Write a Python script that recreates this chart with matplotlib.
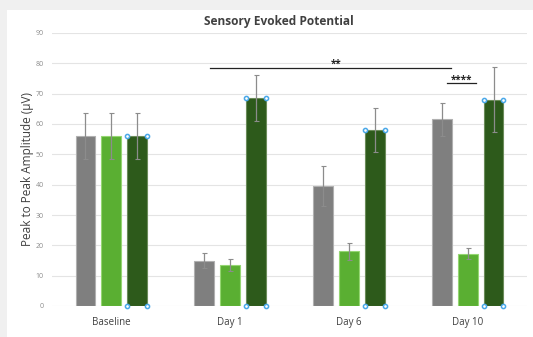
import numpy as np
import matplotlib.pyplot as plt
from matplotlib.patches import Rectangle

plt.rcParams['font.family'] = ['Open Sans', 'DejaVu Sans']

# data
groups = ['Baseline', 'Day 1', 'Day 6', 'Day 10']
gray_vals = [56, 15, 39.5, 61.5]
gray_err = [7.5, 2.5, 6.5, 5.3]
light_vals = [56, 13.5, 18, 17.3]
light_err = [7.5, 2.0, 2.7, 1.7]
dark_vals = [56, 68.5, 58, 68]
dark_err = [7.5, 7.5, 7.3, 10.8]

fig = plt.figure(figsize=(5.33, 3.37), dpi=100)
fig.patch.set_facecolor('#f0f0f0')
fig.patches.append(Rectangle((7 / 533, 0), 1, 1 - 10 / 337, transform=fig.transFigure,
                             facecolor='white', edgecolor='none', zorder=-1))

ax = fig.add_axes([52 / 533, 31 / 337, 475 / 533, 273 / 337])
ax.set_facecolor('none')
ax.set_zorder(1)

index = np.arange(len(groups))
bar_width = 0.168
offset = 0.218
ekw = dict(ecolor='#8c8c8c', elinewidth=0.9, capsize=1.8, capthick=0.8)

ax.bar(index - offset, gray_vals, bar_width, color='#7f7f7f', edgecolor='#b0b0b0',
       linewidth=0.8, yerr=gray_err, error_kw=ekw, zorder=2)
ax.bar(index, light_vals, bar_width, color='#5aaf32', edgecolor='#95d672',
       linewidth=0.8, yerr=light_err, error_kw=ekw, zorder=2)
ax.bar(index + offset, dark_vals, bar_width, color='#2d5a1b', edgecolor='#6b8c5a',
       linewidth=0.8, yerr=dark_err, error_kw=ekw, zorder=2)

# selection handles on the dark green series
hx = []
hy = []
for i, v in enumerate(dark_vals):
    for dx in (-bar_width / 2, bar_width / 2):
        hx += [index[i] + offset + dx, index[i] + offset + dx]
        hy += [v, 0]
ax.scatter(hx, hy, s=9, facecolor='white', edgecolor='#4aa8e8', linewidth=1.1,
           zorder=5, clip_on=False)

# significance markers
ax.plot([0.83, 2.86], [78.6, 78.6], color='#222222', linewidth=0.9, zorder=4)
ax.text(1.89, 78.9, '**', ha='center', va='baseline', fontsize=7, fontweight='bold', color='#222222')
ax.plot([2.83, 3.07], [73.4, 73.4], color='#222222', linewidth=0.9, zorder=4)
ax.text(2.95, 73.6, '****', ha='center', va='baseline', fontsize=7, fontweight='bold', color='#222222')

ax.set_xlim(-0.5, 3.5)
ax.set_ylim(0, 90)
ax.set_yticks(np.arange(0, 91, 10))
ax.yaxis.grid(True, color='#e4e4e4', linewidth=0.8, zorder=0)
ax.set_axisbelow(True)
for s in ax.spines.values():
    s.set_visible(False)
ax.tick_params(axis='y', length=0, labelsize=5, labelcolor='#8c8c8c', pad=6)
ax.tick_params(axis='x', length=0, labelsize=7, labelcolor='#404040', pad=8)
ax.set_xticks(index)
ax.set_xticklabels(groups)

ax.set_ylabel('Peak to Peak Amplitude (\u03bcV)', fontsize=8.5, color='#404040', labelpad=1)
fig.text(278.5 / 533, 1 - 21 / 337, 'Sensory Evoked Potential', ha='center', va='center',
         fontsize=8.6, fontweight='bold', color='#404040')

plt.savefig('out.png', dpi=100, facecolor=fig.get_facecolor())
